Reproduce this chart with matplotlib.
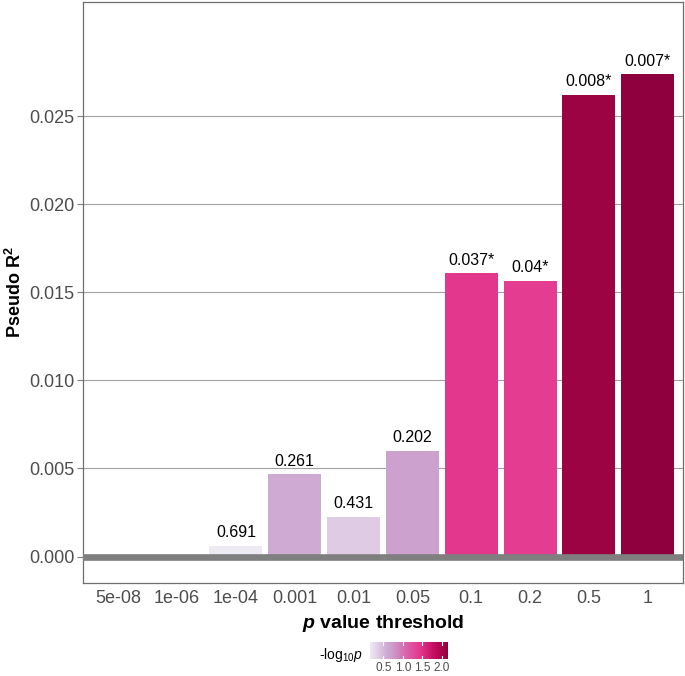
import numpy as np
import matplotlib
matplotlib.use("Agg")
import matplotlib.pyplot as plt
from matplotlib.colors import LinearSegmentedColormap, Normalize
from matplotlib.cm import ScalarMappable

plt.rcParams['font.family'] = ['Liberation Sans', 'DejaVu Sans']
plt.rcParams['mathtext.fontset'] = 'custom'
plt.rcParams['mathtext.rm'] = 'Liberation Sans'
plt.rcParams['mathtext.it'] = 'Liberation Sans:italic'
plt.rcParams['mathtext.bf'] = 'Liberation Sans:bold'
plt.rcParams['mathtext.bfit'] = 'Liberation Sans:bold:italic'

# data
thresholds = ['5e-08', '1e-06', '1e-04', '0.001', '0.01', '0.05', '0.1', '0.2', '0.5', '1']
pseudo_r2 = [np.nan, np.nan, 0.00060, 0.00467, 0.00226, 0.00600, 0.01607, 0.01564, 0.02619, 0.02737]
p_values = [np.nan, np.nan, 0.691, 0.261, 0.431, 0.202, 0.037, 0.04, 0.008, 0.007]
p_labels = ['', '', '0.691', '0.261', '0.431', '0.202', '0.037*', '0.04*', '0.008*', '0.007*']

cmap = LinearSegmentedColormap.from_list('prsice', [
    (0.0, '#eeeaf3'), (0.10, '#dfcde4'), (0.21, '#cfabd4'), (0.27, '#cca0cd'),
    (0.45, '#d768ae'), (0.63, '#e5398f'), (0.82, '#c30c62'), (0.97, '#9c0342'),
    (1.0, '#8f003e')])

logp = -np.log10(np.array(p_values, dtype=float))
norm = Normalize(vmin=np.nanmin(logp), vmax=np.nanmax(logp))

fig = plt.figure(figsize=(6.85, 6.76), dpi=100)
ax = fig.add_axes([83 / 685, 1 - 583 / 676, 600 / 685, 581 / 676])

x = np.arange(len(thresholds))
for i in range(len(thresholds)):
    if np.isnan(pseudo_r2[i]):
        continue
    ax.bar(x[i], pseudo_r2[i], width=0.9, color=cmap(norm(logp[i])), zorder=2)
    ax.annotate(p_labels[i], (x[i], pseudo_r2[i]), xytext=(0, 4), textcoords='offset points',
                ha='center', va='bottom', fontsize=11.5, color='black')

ax.axhline(0, color='#7f7f7f', lw=4.8, zorder=3)

ax.set_xlim(-0.6, len(thresholds) - 0.4)
ax.set_ylim(-0.0015, 0.03147)
ax.set_yticks([0, 0.005, 0.010, 0.015, 0.020, 0.025])
ax.set_yticklabels(['0.000', '0.005', '0.010', '0.015', '0.020', '0.025'])
ax.set_xticks(x)
ax.set_xticklabels(thresholds)
ax.yaxis.grid(True, color='#a0a0a0', lw=0.8, zorder=0)
ax.set_axisbelow(True)
ax.tick_params(axis='y', labelsize=13, labelcolor='#4d4d4d', color='#7f7f7f', length=4, width=0.8, pad=2)
ax.tick_params(axis='x', labelsize=13, labelcolor='#4d4d4d', length=0, pad=5)
for s in ax.spines.values():
    s.set_color('#6e6e6e')
    s.set_linewidth(0.9)

ax.set_ylabel(r'Pseudo R$^\mathbf{2}$', fontsize=13, fontweight='bold', labelpad=3)
ax.set_xlabel(r'$\mathbfit{p}$ value threshold', fontsize=14, fontweight='bold', labelpad=4)

# colour legend
cax = fig.add_axes([370 / 685, 1 - 659 / 676, 78 / 685, 17 / 676])
cb = fig.colorbar(ScalarMappable(norm=norm, cmap=cmap), cax=cax, orientation='horizontal')
cb.outline.set_visible(False)
cb.set_ticks([0.5, 1.0, 1.5, 2.0])
cb.set_ticklabels(['0.5', '1.0', '1.5', '2.0'])
cax.tick_params(length=0, labelsize=8.5, labelcolor='#4d4d4d', pad=2)
for t in [0.5, 1.0, 1.5, 2.0]:
    cax.axvline(t, ymin=0, ymax=0.2, color='white', lw=0.8)
    cax.axvline(t, ymin=0.8, ymax=1, color='white', lw=0.8)
fig.text(363 / 685, 1 - 655 / 676, r'-log$_{10}$$\mathit{p}$', ha='right', va='center', fontsize=10)

fig.savefig('out.png', dpi=100)
